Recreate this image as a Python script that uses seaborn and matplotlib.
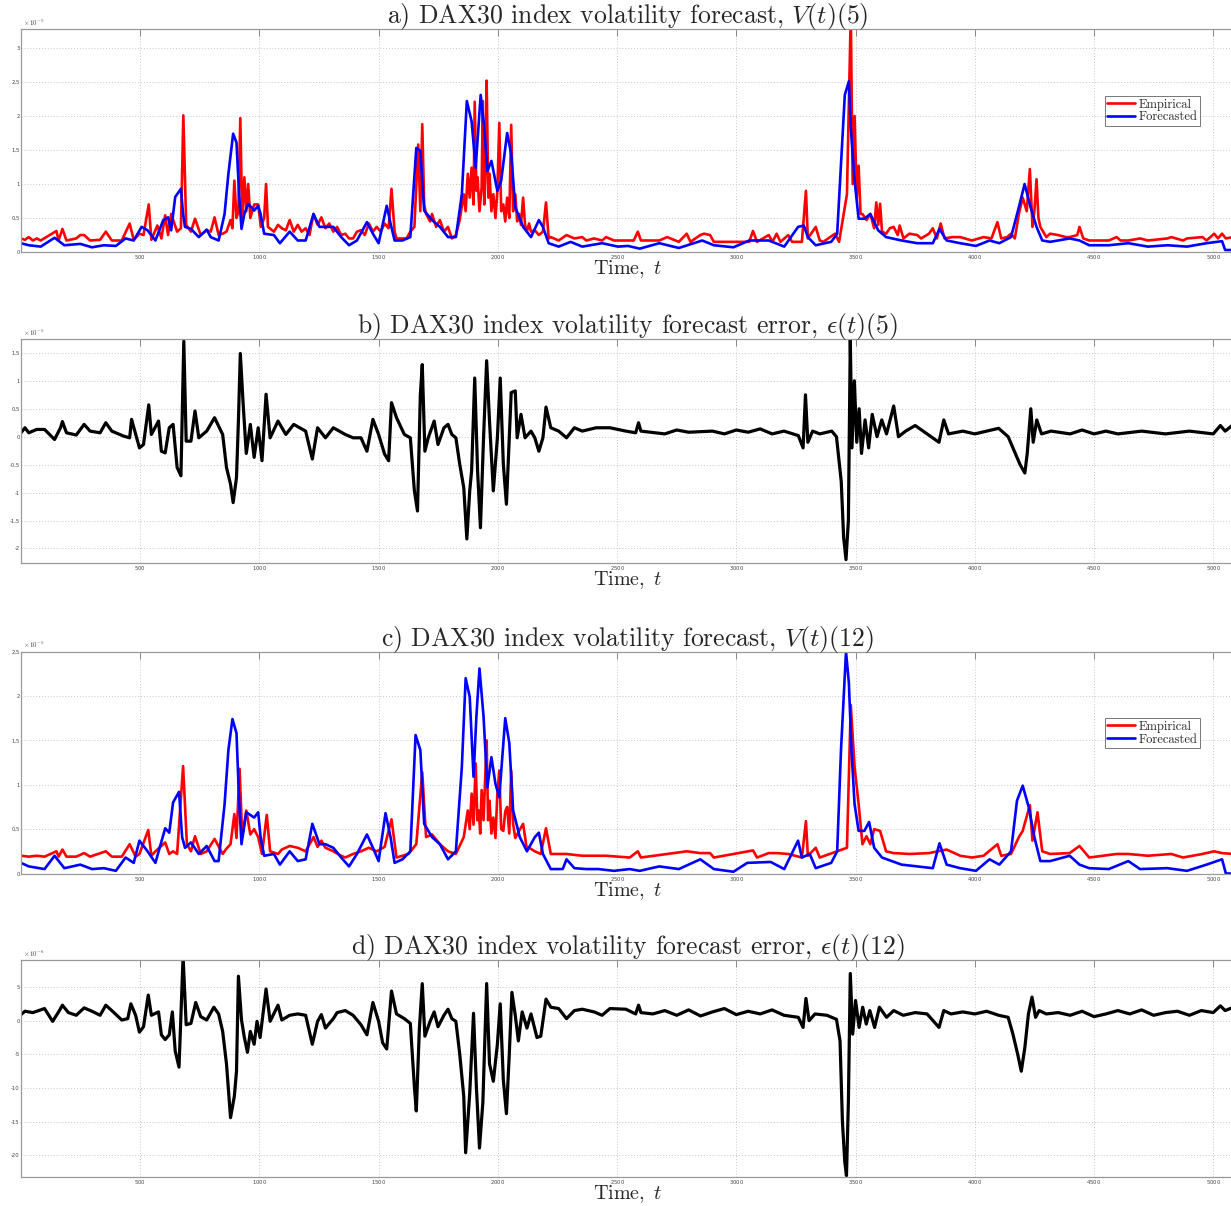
import matplotlib
matplotlib.use("Agg")
import matplotlib.pyplot as plt
import seaborn as sns
import pandas as pd
from matplotlib.ticker import FuncFormatter, FixedLocator

# ---------------- data (t, value) ; a,b,c in 1e-5 units, d in 1e-6 units ----------------
a_emp = [(0,0.2),(17,0.18),(33,0.22),(50,0.17),(66,0.2),(83,0.17),(149,0.31),(158,0.17),(174,0.34),(191,0.17),
 (232,0.2),(249,0.25),(265,0.25),(290,0.17),(332,0.18),(356,0.30),(381,0.17),(423,0.17),(456,0.42),(473,0.18),
 (497,0.27),(514,0.25),(536,0.70),(547,0.18),(572,0.39),(589,0.2),(605,0.54),(617,0.25),(630,0.56),(655,0.3),
 (671,0.35),(681,2.01),(693,0.4),(713,0.3),(730,0.49),(754,0.25),(779,0.32),(796,0.3),(812,0.51),(829,0.25),
 (846,0.27),(862,0.3),(879,0.47),(887,0.35),(895,1.05),(904,0.5),(912,0.6),(920,1.97),(928,0.47),(937,1.10),
 (945,0.6),(953,1.0),(962,0.5),(978,0.7),(995,0.7),(1006,0.37),(1020,0.5),(1028,1.0),(1036,0.37),(1061,0.3),
 (1078,0.4),(1094,0.35),(1111,0.32),(1127,0.47),(1144,0.3),(1161,0.4),(1177,0.3),(1194,0.35),(1210,0.25),(1227,0.56),
 (1244,0.4),(1260,0.51),(1277,0.35),(1293,0.42),(1310,0.3),(1326,0.37),(1343,0.25),(1360,0.27),(1376,0.2),(1393,0.2),
 (1409,0.3),(1426,0.32),(1442,0.25),(1459,0.42),(1476,0.3),(1492,0.37),(1509,0.3),(1525,0.42),(1542,0.35),(1554,0.93),
 (1567,0.3),(1575,0.2),(1600,0.2),(1617,0.2),(1633,0.3),(1650,0.37),(1666,1.58),(1675,0.6),(1683,1.88),(1691,0.7),
 (1699,0.56),(1716,0.45),(1724,0.56),(1741,0.37),(1757,0.47),(1774,0.3),(1791,0.37),(1807,0.2),(1824,0.25),(1840,0.47),
 (1857,0.85),(1865,0.6),(1874,1.15),(1882,0.8),(1890,1.24),(1898,0.7),(1903,2.21),(1910,0.9),(1915,1.1),(1923,0.6),
 (1932,0.95),(1937,2.22),(1943,0.7),(1948,1.2),(1953,2.52),(1960,0.8),(1965,1.15),(1973,0.6),(1981,0.85),(1990,0.5),
 (1998,0.9),(2006,1.90),(2014,0.6),(2023,0.7),(2031,0.45),(2039,0.8),(2048,0.5),(2056,1.87),(2064,0.6),(2073,0.85),
 (2081,0.45),(2089,0.56),(2097,0.4),(2106,0.8),(2114,0.4),(2122,0.3),(2131,0.42),(2139,0.3),(2155,0.32),(2172,0.25),
 (2189,0.3),(2202,0.73),(2213,0.2),(2222,0.22),(2255,0.17),(2288,0.25),(2321,0.2),(2354,0.22),(2371,0.17),(2404,0.2),
 (2437,0.17),(2454,0.22),(2487,0.17),(2537,0.17),(2570,0.17),(2587,0.3),(2600,0.17),(2677,0.17),(2710,0.22),(2759,0.15),
 (2792,0.27),(2808,0.15),(2849,0.25),(2865,0.27),(2890,0.25),(2906,0.15),(2988,0.15),(3054,0.15),(3070,0.31),(3087,0.15),
 (3136,0.25),(3152,0.15),(3169,0.27),(3185,0.15),(3218,0.25),(3234,0.15),(3275,0.15),(3292,0.90),(3300,0.2),(3333,0.37),
 (3350,0.17),(3365,0.15),(3414,0.27),(3431,0.15),(3464,0.85),(3480,3.5),(3488,1.0),(3496,2.0),(3505,0.8),(3513,1.27),
 (3521,0.56),(3529,0.56),(3546,0.47),(3562,0.56),(3578,0.35),(3587,0.73),(3595,0.4),(3603,0.71),(3611,0.3),(3628,0.27),
 (3644,0.35),(3660,0.37),(3677,0.25),(3685,0.39),(3701,0.2),(3726,0.27),(3759,0.25),(3775,0.2),(3808,0.27),(3824,0.35),
 (3841,0.2),(3857,0.42),(3873,0.2),(3906,0.22),(3939,0.22),(3988,0.17),(4037,0.22),(4070,0.2),(4095,0.44),(4111,0.2),
 (4136,0.22),(4152,0.27),(4168,0.2),(4185,0.56),(4201,0.8),(4218,0.6),(4231,1.22),(4242,0.37),(4250,0.6),(4259,1.07),
 (4267,0.5),(4275,0.37),(4300,0.22),(4316,0.27),(4349,0.25),(4382,0.22),(4398,0.22),(4430,0.25),(4439,0.37),(4455,0.2),
 (4480,0.17),(4562,0.17),(4595,0.22),(4611,0.17),(4644,0.17),(4693,0.2),(4726,0.17),(4808,0.2),(4824,0.22),(4873,0.17),
 (4890,0.2),(4955,0.22),(4972,0.17),(5004,0.27),(5020,0.2),(5037,0.27),(5053,0.2),(5083,0.22)]

a_fc = [(0,0.13),(33,0.10),(83,0.08),(141,0.21),(182,0.10),(249,0.12),(298,0.07),(348,0.10),(398,0.09),(439,0.20),
 (473,0.17),(506,0.37),(531,0.32),(564,0.17),(597,0.47),(617,0.51),(630,0.32),(647,0.81),(671,0.93),(680,0.56),
 (688,0.37),(713,0.34),(746,0.22),(779,0.33),(796,0.22),(829,0.17),(854,0.56),(870,1.15),(890,1.74),(904,1.61),
 (915,0.85),(925,0.34),(937,0.56),(953,0.71),(978,0.61),(995,0.68),(1005,0.56),(1020,0.27),(1061,0.25),(1086,0.13),
 (1127,0.3),(1161,0.17),(1194,0.17),(1227,0.56),(1252,0.37),(1277,0.37),(1310,0.37),(1343,0.22),(1376,0.10),(1409,0.17),
 (1451,0.44),(1476,0.27),(1500,0.13),(1534,0.68),(1550,0.42),(1567,0.17),(1600,0.17),(1633,0.22),(1658,1.53),(1675,1.49),
 (1691,0.61),(1724,0.47),(1757,0.37),(1791,0.22),(1824,0.22),(1849,0.85),(1870,2.22),(1890,1.92),(1907,1.24),(1928,2.31),
 (1943,1.83),(1956,1.19),(1973,1.34),(1998,0.90),(2014,1.05),(2039,1.75),(2056,1.44),(2073,0.66),(2106,0.37),(2139,0.22),
 (2172,0.47),(2189,0.37),(2213,0.13),(2255,0.08),(2305,0.15),(2354,0.08),(2437,0.13),(2504,0.08),(2546,0.09),(2595,0.05),
 (2677,0.13),(2759,0.06),(2857,0.17),(2906,0.10),(2988,0.07),(3054,0.17),(3136,0.17),(3201,0.08),(3259,0.37),(3283,0.39),
 (3300,0.22),(3333,0.10),(3398,0.15),(3423,0.27),(3439,1.29),(3455,2.31),(3472,2.51),(3480,1.83),(3496,1.05),(3513,0.49),
 (3537,0.49),(3562,0.56),(3595,0.32),(3628,0.22),(3693,0.17),(3759,0.13),(3824,0.13),(3852,0.34),(3882,0.17),(3939,0.13),
 (4005,0.09),(4062,0.17),(4103,0.13),(4152,0.22),(4185,0.66),(4209,1.0),(4234,0.66),(4259,0.37),(4283,0.17),(4316,0.15),
 (4398,0.20),(4439,0.17),(4480,0.10),(4562,0.10),(4644,0.13),(4726,0.08),(4808,0.10),(4890,0.08),(4972,0.13),(5037,0.16),
 (5050,0.03),(5083,0.03)]

b_err = [(0,0.07),(17,0.16),(33,0.07),(66,0.13),(99,0.13),(141,-0.05),(166,0.16),(174,0.27),(191,0.07),(232,0.03),
 (265,0.22),(290,0.10),(332,0.07),(356,0.25),(381,0.10),(431,0.01),(456,-0.02),(464,0.31),(497,-0.2),(514,-0.14),
 (536,0.57),(547,0.04),(577,0.28),(589,-0.26),(605,-0.29),(622,0.16),(638,0.22),(655,-0.55),(671,-0.70),(683,1.71),
 (693,-0.08),(713,-0.08),(730,0.46),(746,-0.02),(779,0.10),(812,0.34),(829,0.19),(846,0.04),(862,-0.55),(879,-0.85),
 (890,-1.18),(904,-0.73),(912,0.28),(920,1.49),(932,0.58),(945,-0.3),(962,0.22),(978,-0.37),(995,0.16),(1011,-0.43),
 (1028,0.76),(1045,-0.02),(1078,0.28),(1111,0.04),(1144,0.22),(1194,0.10),(1222,-0.40),(1244,0.16),(1277,-0.02),(1310,0.16),
 (1360,0.04),(1393,-0.02),(1426,-0.02),(1451,-0.26),(1476,0.31),(1500,0.04),(1525,-0.31),(1542,-0.43),(1554,0.61),(1575,0.34),
 (1608,0.04),(1633,-0.02),(1650,-0.97),(1663,-1.33),(1675,0.75),(1683,1.29),(1694,-0.26),(1708,-0.02),(1733,0.28),(1749,-0.14),
 (1774,0.16),(1791,0.22),(1807,0.04),(1824,-0.02),(1840,-0.49),(1857,-0.91),(1870,-1.83),(1882,-0.97),(1890,-0.61),(1903,1.05),
 (1915,-0.61),(1927,-1.63),(1940,-0.02),(1953,1.36),(1965,0.28),(1981,-0.97),(1998,-0.02),(2010,1.05),(2023,-0.49),(2036,-1.21),
 (2048,-0.02),(2056,0.79),(2073,0.82),(2081,-0.02),(2097,0.40),(2114,-0.02),(2139,0.10),(2155,-0.02),(2172,-0.26),(2189,-0.02),
 (2202,0.53),(2222,0.16),(2255,0.10),(2288,-0.02),(2321,0.16),(2354,0.10),(2412,0.16),(2470,0.16),(2537,0.10),(2578,0.07),
 (2590,0.25),(2600,0.1),(2700,0.05),(2750,0.12),(2800,0.08),(2900,0.1),(2950,0.05),(3000,0.12),(3050,0.08),(3100,0.14),
 (3150,0.05),(3200,0.1),(3260,0.02),(3280,-0.2),(3290,0.75),(3300,-0.1),(3320,0.1),(3350,0.05),(3400,0.1),(3420,0.0),
 (3440,-0.8),(3450,-1.8),(3460,-2.2),(3470,-1.5),(3478,1.74),(3485,-0.2),(3495,1.0),(3505,-0.1),(3515,0.5),(3525,-0.3),
 (3540,0.3),(3555,-0.2),(3570,0.4),(3590,0.0),(3610,0.3),(3630,0.05),(3660,0.55),(3680,0.0),(3710,0.1),(3750,0.2),
 (3800,0.05),(3850,-0.1),(3870,0.3),(3890,0.05),(3950,0.1),(4000,0.05),(4050,0.1),(4100,0.15),(4140,0.0),(4170,-0.3),
 (4190,-0.5),(4210,-0.65),(4220,-0.3),(4235,0.5),(4245,-0.1),(4260,0.3),(4280,0.05),(4320,0.1),(4400,0.05),(4450,0.12),
 (4500,0.05),(4550,0.1),(4600,0.05),(4700,0.1),(4800,0.05),(4900,0.1),(5000,0.05),(5030,0.2),(5050,0.1),(5085,0.22)]

c_emp = [(0,0.2),(33,0.19),(66,0.2),(99,0.19),(149,0.25),(158,0.19),(174,0.27),(191,0.19),(232,0.19),(265,0.23),
 (290,0.19),(356,0.25),(381,0.19),(423,0.19),(456,0.33),(481,0.19),(497,0.22),(534,0.49),(547,0.2),(564,0.25),
 (605,0.35),(622,0.22),(638,0.25),(655,0.22),(680,1.21),(696,0.33),(713,0.25),(730,0.42),(754,0.22),(779,0.25),
 (812,0.39),(846,0.22),(862,0.28),(879,0.33),(895,0.67),(904,0.4),(917,1.18),(928,0.41),(945,0.71),(962,0.44),
 (978,0.5),(995,0.41),(1011,0.22),(1031,0.66),(1045,0.25),(1078,0.22),(1094,0.27),(1127,0.31),(1161,0.29),(1194,0.25),
 (1227,0.41),(1244,0.3),(1260,0.37),(1277,0.29),(1310,0.25),(1343,0.2),(1360,0.18),(1393,0.22),(1426,0.25),(1459,0.29),
 (1492,0.25),(1525,0.3),(1554,0.61),(1575,0.18),(1625,0.22),(1658,0.33),(1683,1.14),(1699,0.41),(1724,0.44),(1757,0.33),
 (1791,0.25),(1824,0.22),(1857,0.41),(1874,0.71),(1882,0.5),(1890,0.90),(1898,0.55),(1907,1.24),(1914,0.6),(1920,0.71),
 (1926,0.45),(1932,0.94),(1940,0.6),(1953,1.50),(1959,0.6),(1965,0.82),(1973,0.45),(1981,0.63),(1990,0.4),(1998,0.9),
 (2006,1.16),(2014,0.5),(2023,0.48),(2031,0.7),(2039,0.75),(2048,0.45),(2056,1.16),(2064,0.56),(2073,0.4),(2089,0.48),
 (2106,0.56),(2120,0.3),(2131,0.29),(2155,0.25),(2180,0.22),(2202,0.51),(2222,0.22),(2288,0.22),(2354,0.2),(2454,0.2),
 (2553,0.18),(2587,0.25),(2600,0.18),(2710,0.22),(2792,0.25),(2849,0.23),(2890,0.23),(2906,0.18),(3070,0.26),(3087,0.18),
 (3136,0.23),(3169,0.23),(3218,0.22),(3275,0.18),(3292,0.59),(3300,0.2),(3333,0.29),(3350,0.18),(3423,0.25),(3464,0.29),
 (3480,1.90),(3496,1.2),(3513,0.78),(3529,0.33),(3546,0.42),(3562,0.33),(3578,0.50),(3603,0.48),(3628,0.25),(3660,0.23),
 (3726,0.22),(3808,0.23),(3882,0.27),(3939,0.2),(3988,0.18),(4037,0.2),(4095,0.33),(4111,0.2),(4152,0.22),(4185,0.41),
 (4201,0.48),(4231,0.77),(4242,0.37),(4263,0.69),(4283,0.25),(4316,0.22),(4398,0.23),(4439,0.31),(4480,0.18),(4595,0.22),
 (4644,0.22),(4726,0.2),(4824,0.22),(4873,0.18),(4955,0.22),(5004,0.25),(5037,0.23),(5083,0.22)]

c_fc = [(0,0.12),(33,0.08),(99,0.05),(141,0.2),(182,0.06),(249,0.10),(298,0.05),(348,0.06),(398,0.03),(439,0.18),
 (473,0.12),(497,0.37),(531,0.25),(564,0.12),(605,0.51),(622,0.46),(638,0.80),(663,0.92),(676,0.41),(688,0.29),
 (713,0.35),(746,0.22),(779,0.31),(812,0.14),(829,0.14),(854,0.78),(870,1.39),(887,1.74),(904,1.58),(915,0.82),
 (925,0.33),(945,0.69),(978,0.63),(995,0.69),(1005,0.41),(1020,0.2),(1061,0.22),(1086,0.10),(1127,0.25),(1161,0.14),
 (1194,0.16),(1222,0.56),(1252,0.33),(1277,0.33),(1310,0.29),(1343,0.18),(1376,0.08),(1409,0.22),(1451,0.44),(1476,0.29),
 (1500,0.14),(1529,0.68),(1550,0.41),(1567,0.12),(1600,0.16),(1633,0.25),(1655,1.56),(1675,1.39),(1691,0.56),(1724,0.41),
 (1757,0.33),(1791,0.16),(1824,0.25),(1849,1.20),(1865,2.20),(1882,1.99),(1898,1.09),(1910,1.77),(1923,2.31),(1940,1.77),
 (1956,0.97),(1973,1.31),(1990,1.01),(2006,0.86),(2031,1.75),(2048,1.47),(2064,0.71),(2092,0.41),(2122,0.25),(2155,0.41),
 (2172,0.46),(2189,0.22),(2222,0.05),(2272,0.05),(2288,0.16),(2321,0.06),(2371,0.05),(2421,0.05),(2487,0.03),(2553,0.05),
 (2595,0.03),(2677,0.08),(2759,0.05),(2849,0.16),(2906,0.05),(2988,0.02),(3046,0.12),(3144,0.13),(3201,0.05),(3259,0.37),
 (3275,0.18),(3308,0.22),(3333,0.06),(3398,0.12),(3423,0.25),(3439,1.39),(3460,2.5),(3472,2.15),(3483,1.39),(3496,0.78),
 (3513,0.48),(3537,0.48),(3557,0.58),(3578,0.29),(3611,0.18),(3693,0.10),(3759,0.08),(3824,0.06),(3852,0.34),(3882,0.10),
 (3939,0.06),(4005,0.03),(4062,0.16),(4103,0.10),(4152,0.25),(4177,0.82),(4201,0.99),(4226,0.75),(4250,0.41),(4275,0.14),
 (4316,0.14),(4398,0.20),(4439,0.10),(4480,0.06),(4562,0.05),(4644,0.14),(4693,0.05),(4808,0.06),(4890,0.03),(4972,0.10),
 (5037,0.16),(5053,0.0),(5083,0.0)]

d_err = [(0,0.9),(17,1.4),(50,1.2),(99,1.8),(133,-0.1),(158,1.3),(174,2.3),(199,1.2),(232,0.8),(265,1.9),
 (298,1.4),(332,0.8),(356,2.3),(381,1.5),(423,0.1),(448,0.3),(461,2.5),(481,0.8),(497,-1.7),(514,-0.9),
 (534,3.8),(547,0.8),(577,1.3),(589,-2.1),(605,-2.8),(622,-2.1),(635,1.3),(647,-4.5),(663,-6.9),(680,9.5),
 (693,-0.6),(713,-0.4),(733,2.7),(754,0.6),(779,0.1),(809,2.0),(829,1.0),(846,-1.6),(862,-6.4),(879,-14.4),
 (895,-11.2),(904,-7.5),(912,6.6),(925,0.1),(937,-2.5),(950,-4.7),(962,-1.6),(978,-3.5),(990,-0.1),(1003,-2.5),
 (1028,4.7),(1045,-0.1),(1078,2.3),(1094,0.1),(1127,0.8),(1161,1.0),(1194,0.8),(1222,-3.5),(1244,-0.1),(1260,0.9),
 (1277,-1.1),(1310,0.3),(1326,1.2),(1360,1.5),(1393,0.8),(1426,-0.6),(1451,-2.1),(1476,2.7),(1500,-0.1),(1517,-3.3),
 (1534,-4.2),(1554,4.4),(1575,1.0),(1608,0.3),(1633,-0.4),(1650,-9.8),(1658,-13.4),(1671,-1.1),(1683,5.5),(1694,-2.3),
 (1716,-0.1),(1733,1.3),(1749,-0.9),(1774,0.8),(1791,1.7),(1807,0.3),(1824,-0.1),(1840,-4.9),(1857,-11.2),(1865,-19.6),
 (1882,-10.8),(1898,1.1),(1910,-9.8),(1923,-18.9),(1937,-12.2),(1953,5.5),(1965,-6.4),(1981,-9.0),(1998,-3.5),(2010,2.5),
 (2023,-8.8),(2036,-13.8),(2048,-4.9),(2059,4.2),(2073,0.8),(2086,-3.0),(2102,1.3),(2122,-1.1),(2139,1.0),(2164,-2.5),
 (2180,-2.3),(2202,3.2),(2222,2.0),(2255,1.8),(2288,0.3),(2321,1.5),(2354,1.7),(2404,1.3),(2437,0.8),(2470,1.8),
 (2537,1.7),(2578,1.0),(2590,2.3),(2600,1.2),(2650,1.0),(2700,1.5),(2750,0.8),(2800,1.6),(2850,0.7),(2900,1.3),
 (2950,1.8),(3000,0.9),(3050,1.4),(3100,1.0),(3150,1.6),(3200,0.8),(3260,0.5),(3280,-1.0),(3292,3.3),(3305,0.0),
 (3330,1.0),(3380,0.8),(3420,0.2),(3435,-3.0),(3445,-15.0),(3455,-21.0),(3462,-23.0),(3470,-12.0),(3478,7.0),(3488,-2.0),
 (3500,3.0),(3515,-1.0),(3530,2.0),(3545,-0.5),(3560,1.5),(3580,-1.0),(3600,2.0),(3630,0.5),(3660,1.5),(3700,0.8),
 (3750,1.2),(3800,1.0),(3850,-1.0),(3870,1.5),(3900,1.0),(3950,1.3),(4000,1.0),(4050,1.4),(4100,0.8),(4140,0.5),
 (4160,-2.0),(4180,-5.0),(4195,-7.5),(4210,-4.0),(4225,1.0),(4240,3.5),(4255,0.5),(4270,1.5),(4300,1.0),(4350,1.2),
 (4400,0.8),(4450,1.4),(4500,0.6),(4550,1.0),(4600,1.5),(4650,1.0),(4700,1.6),(4750,0.8),(4800,1.2),(4850,1.4),
 (4900,0.8),(4950,1.5),(5000,1.2),(5030,2.2),(5050,1.5),(5085,2.0)]

titles = ["a) DAX30 index volatility forecast, $V(t)(5)$",
          "b) DAX30 index volatility forecast error, $\\epsilon(t)(5)$",
          "c) DAX30 index volatility forecast, $V(t)(12)$",
          "d) DAX30 index volatility forecast error, $\\epsilon(t)(12)$"]
x_label = "$\\mathrm{Time,}\\ t$"
x_ticks = [500, 1000, 1500, 2000, 2500, 3000, 3500, 4000, 4500, 5000]
y_ticks = [[0, 0.5, 1, 1.5, 2, 2.5, 3],
           [-2, -1.5, -1, -0.5, 0, 0.5, 1, 1.5],
           [0, 0.5, 1, 1.5, 2, 2.5],
           [-20, -15, -10, -5, 0, 5]]
y_lims = [(0, 3.28), (-2.26, 1.74), (0, 2.5), (-23.2, 9.0)]
exponents = ["-5", "-5", "-5", "-6"]
legend_labels = ["Empirical", "Forecasted"]

# ---------------- figure ----------------
sns.set_theme(style="white")
plt.rcParams["mathtext.fontset"] = "cm"
plt.rcParams["font.family"] = ["serif"]
plt.rcParams["font.serif"] = ["cmr10", "DejaVu Serif"]
plt.rcParams["axes.formatter.use_mathtext"] = True

FIG_H_PX = 1206
fig = plt.figure(figsize=(12.31, 12.06), dpi=100)
positions = [(0.0170, 0.7910, 0.9860, 0.1850),
             (0.0170, 0.5332, 0.9860, 0.1853),
             (0.0170, 0.2757, 0.9860, 0.1840),
             (0.0170, 0.02405, 0.9860, 0.1799)]

def comma_fmt(v, pos):
    return ("%g" % v).replace(".", ",")

series = [[(a_emp, "red"), (a_fc, "blue")],
          [(b_err, "black")],
          [(c_emp, "red"), (c_fc, "blue")],
          [(d_err, "black")]]

for i in range(4):
    ax = fig.add_axes(positions[i])
    ax_h_px = positions[i][3] * FIG_H_PX
    for data, col in series[i]:
        df = pd.DataFrame(data, columns=["t", "v"])
        lw = 2.3 if col == "black" else 1.9
        sns.lineplot(data=df, x="t", y="v", ax=ax, color=col, lw=lw,
                     estimator=None, sort=False, legend=False)
    ax.set_xlim(0, 5090)
    ax.set_ylim(*y_lims[i])
    ax.xaxis.set_major_locator(FixedLocator(x_ticks))
    ax.yaxis.set_major_locator(FixedLocator(y_ticks[i]))
    ax.yaxis.set_major_formatter(FuncFormatter(comma_fmt))
    ax.grid(True, color="#c8c8c8", linestyle=(0, (1, 2)), linewidth=0.7)
    ax.tick_params(axis="both", direction="in", length=5, width=0.6, color="#777777",
                   labelsize=3.8, labelcolor="#444444", top=True, right=False, pad=0.8)
    for lab in ax.get_xticklabels() + ax.get_yticklabels():
        lab.set_fontfamily("DejaVu Sans")
    for sp in ax.spines.values():
        sp.set_color("#999999")
        sp.set_linewidth(0.9)
    ax.set_xlabel(x_label, fontsize=14.5)
    ax.xaxis.set_label_coords(0.5, -28.0 / ax_h_px)
    ax.xaxis.label.set_va("bottom")
    ax.set_ylabel("")
    ax.set_title(titles[i], fontsize=18.5, y=1.0 + 12.5 / ax_h_px, va="center", pad=0)
    ax.text(0.002, 1.005, "$\\times\\,10^{%s}$" % exponents[i], transform=ax.transAxes,
            fontsize=5, color="#444444", ha="left", va="bottom")
    if i in (0, 2):
        handles = ax.get_lines()[:2]
        leg = ax.legend(handles, legend_labels, loc="upper left",
                        bbox_to_anchor=(0.893, 0.70),
                        fontsize=9, frameon=True, fancybox=False,
                        handlelength=2.2, handletextpad=0.3, borderpad=0.2,
                        labelspacing=0.05, borderaxespad=0)
        leg.get_frame().set_edgecolor("#555555")
        leg.get_frame().set_linewidth(0.7)

fig.savefig("out.png", dpi=100)
